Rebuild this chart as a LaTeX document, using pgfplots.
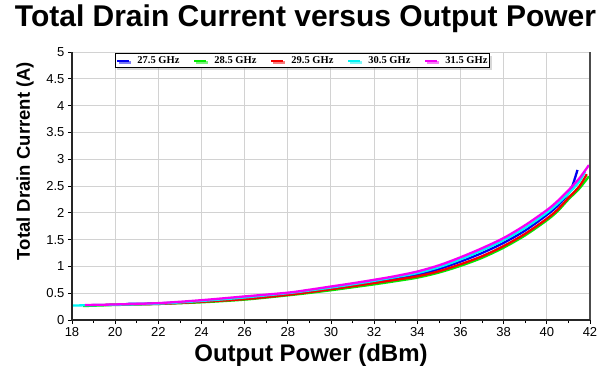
\documentclass[border=0pt]{standalone}
\usepackage{fontspec}
\setmainfont{Liberation Sans}
\newfontfamily\legfont{Liberation Serif}
\usepackage{pgfplots}
\pgfplotsset{compat=1.18}
\usetikzlibrary{shadows}
\definecolor{gridgray}{RGB}{210,210,210}
\definecolor{cblue}{RGB}{0,0,240}
\definecolor{cgreen}{RGB}{0,235,0}
\definecolor{cred}{RGB}{245,0,0}
\definecolor{ccyan}{RGB}{0,245,245}
\definecolor{cmag}{RGB}{245,0,245}
\begin{document}
\begin{tikzpicture}
\useasboundingbox (-72pt,-50pt) rectangle (539pt,320pt);
\begin{axis}[
  at={(0pt,0pt)}, anchor=south west,
  scale only axis, width=518pt, height=268pt,
  xmin=18, xmax=42, ymin=0, ymax=5,
  xtick={18,20,...,42}, minor xtick={19,21,...,41},
  ytick={0,0.5,...,5},
  grid=major, major grid style={gridgray, line width=1pt},
  axis line style={draw=none},
  tick style={black, line width=0.8pt},
  tick align=outside, major tick length=4pt, minor tick length=3pt,
  xtick pos=bottom, ytick pos=left,
  ticklabel style={font=\fontsize{13}{13}\selectfont},
  /pgf/number format/assume math mode=true,
  yticklabel style={/pgf/number format/fixed},
  clip=false,
  legend columns=5,
  legend style={at={(0.083,0.995)}, anchor=north west, draw=black, line width=0.6pt,
    fill=white, drop shadow={shadow xshift=2pt, shadow yshift=-2pt, fill=gray!60},
    font=\legfont\bfseries\fontsize{10.5}{11}\selectfont, inner sep=1.2pt,
    nodes={inner xsep=1pt, inner ysep=1.5pt},
    /tikz/every odd column/.append style={column sep=6pt},
    /tikz/every even column/.append style={column sep=13pt}},
  legend image code/.code={\draw[#1, line width=2pt] (0pt,0pt) -- (12pt,0pt);},
  every axis plot/.append style={line width=2.3pt, smooth, tension=0.5},
]
\addplot[cblue] coordinates {(20.5,0.30)(22,0.31)(24,0.35)(26,0.41)(28,0.49)(29,0.54)(30,0.59)(31,0.65)(32,0.71)(33,0.775)(34,0.845)(35,0.95)(36,1.09)(37,1.25)(38,1.44)(39,1.67)(40,1.96)(40.5,2.13)(41,2.36)(41.2,2.52)(41.42,2.80)};
\addlegendentry{27.5 GHz}
\addplot[cgreen] coordinates {(18.5,0.26)(20,0.28)(22,0.30)(24,0.33)(26,0.38)(28,0.46)(29,0.505)(30,0.555)(31,0.61)(32,0.665)(33,0.725)(34,0.79)(35,0.885)(36,1.01)(37,1.16)(38,1.35)(39,1.58)(40,1.86)(40.5,2.03)(41,2.25)(41.5,2.45)(41.95,2.68)};
\addlegendentry{28.5 GHz}
\addplot[cred] coordinates {(19.5,0.28)(20,0.29)(22,0.30)(24,0.34)(26,0.39)(28,0.47)(29,0.52)(30,0.575)(31,0.63)(32,0.69)(33,0.75)(34,0.815)(35,0.91)(36,1.04)(37,1.19)(38,1.38)(39,1.61)(40,1.89)(40.5,2.06)(41,2.28)(41.5,2.49)(41.85,2.72)};
\addlegendentry{29.5 GHz}
\addplot[ccyan] coordinates {(18.0,0.27)(20,0.285)(22,0.305)(24,0.355)(26,0.42)(28,0.50)(29,0.55)(30,0.605)(31,0.665)(32,0.73)(33,0.80)(34,0.875)(35,0.985)(36,1.13)(37,1.30)(38,1.49)(39,1.72)(40,2.00)(40.5,2.17)(41,2.36)(41.5,2.58)(41.77,2.77)};
\addlegendentry{30.5 GHz}
\addplot[cmag] coordinates {(18.6,0.28)(20,0.29)(22,0.315)(24,0.37)(26,0.44)(28,0.51)(29,0.565)(30,0.625)(31,0.685)(32,0.75)(33,0.82)(34,0.905)(35,1.02)(36,1.17)(37,1.34)(38,1.53)(39,1.77)(40,2.05)(40.5,2.22)(41,2.42)(41.5,2.64)(41.95,2.89)};
\addlegendentry{31.5 GHz}
\draw[black!70, line width=1.2pt] (rel axis cs:1,0) -- (rel axis cs:1,1);
\draw[black!85, line width=2.6pt] (rel axis cs:0,1) -- (rel axis cs:0,0) -- (rel axis cs:1,0);
\end{axis}
\node[font=\bfseries\fontsize{30}{30}\selectfont, anchor=base] at (233.5pt,293pt) {Total Drain Current versus Output Power};
\node[font=\bfseries\fontsize{24}{24}\selectfont] at (239pt,-35pt) {Output Power (dBm)};
\node[font=\bfseries\fontsize{18.5}{18.5}\selectfont, rotate=90] at (-47pt,159pt) {Total Drain Current (A)};
\end{tikzpicture}
\end{document}
